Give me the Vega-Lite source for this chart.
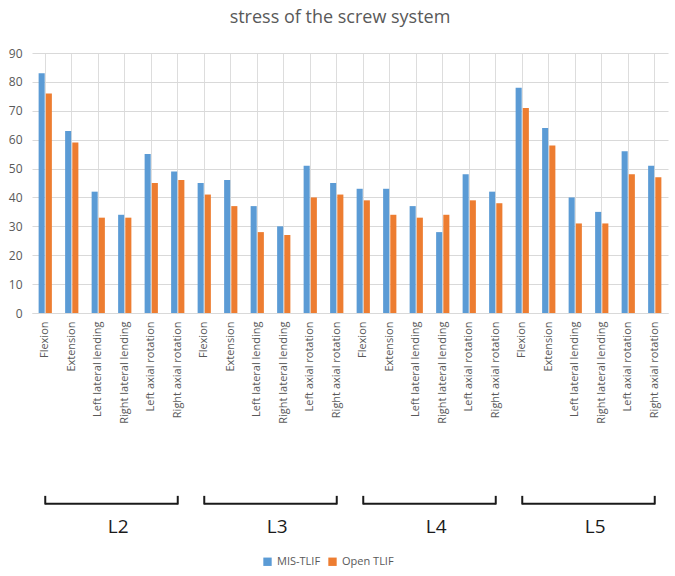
{
  "$schema": "https://vega.github.io/schema/vega-lite/v6.json",
  "autosize": "none",
  "width": 636,
  "height": 260,
  "padding": {"left": 32, "top": 53, "right": 7, "bottom": 263},
  "background": "white",
  "title": {
    "text": "stress of the screw system",
    "fontSize": 18,
    "font": "Open Sans",
    "fontWeight": "normal",
    "color": "#595959",
    "anchor": "middle",
    "dx": -10,
    "offset": 20
  },
  "datasets": {
    "stress": [
      {"cat": "L2 Flexion", "MIS-TLIF": 83, "Open TLIF": 76},
      {"cat": "L2 Extension", "MIS-TLIF": 63, "Open TLIF": 59},
      {"cat": "L2 Left lateral lending", "MIS-TLIF": 42, "Open TLIF": 33},
      {"cat": "L2 Right lateral lending", "MIS-TLIF": 34, "Open TLIF": 33},
      {"cat": "L2 Left axial rotation", "MIS-TLIF": 55, "Open TLIF": 45},
      {"cat": "L2 Right axial rotation", "MIS-TLIF": 49, "Open TLIF": 46},
      {"cat": "L3 Flexion", "MIS-TLIF": 45, "Open TLIF": 41},
      {"cat": "L3 Extension", "MIS-TLIF": 46, "Open TLIF": 37},
      {"cat": "L3 Left lateral lending", "MIS-TLIF": 37, "Open TLIF": 28},
      {"cat": "L3 Right lateral lending", "MIS-TLIF": 30, "Open TLIF": 27},
      {"cat": "L3 Left axial rotation", "MIS-TLIF": 51, "Open TLIF": 40},
      {"cat": "L3 Right axial rotation", "MIS-TLIF": 45, "Open TLIF": 41},
      {"cat": "L4 Flexion", "MIS-TLIF": 43, "Open TLIF": 39},
      {"cat": "L4 Extension", "MIS-TLIF": 43, "Open TLIF": 34},
      {"cat": "L4 Left lateral lending", "MIS-TLIF": 37, "Open TLIF": 33},
      {"cat": "L4 Right lateral lending", "MIS-TLIF": 28, "Open TLIF": 34},
      {"cat": "L4 Left axial rotation", "MIS-TLIF": 48, "Open TLIF": 39},
      {"cat": "L4 Right axial rotation", "MIS-TLIF": 42, "Open TLIF": 38},
      {"cat": "L5 Flexion", "MIS-TLIF": 78, "Open TLIF": 71},
      {"cat": "L5 Extension", "MIS-TLIF": 64, "Open TLIF": 58},
      {"cat": "L5 Left lateral lending", "MIS-TLIF": 40, "Open TLIF": 31},
      {"cat": "L5 Right lateral lending", "MIS-TLIF": 35, "Open TLIF": 31},
      {"cat": "L5 Left axial rotation", "MIS-TLIF": 56, "Open TLIF": 48},
      {"cat": "L5 Right axial rotation", "MIS-TLIF": 51, "Open TLIF": 47}
    ],
    "levels": [
      {"level": "L2", "from": "L2 Flexion", "to": "L2 Right axial rotation", "mid": "L2 Right lateral lending"},
      {"level": "L3", "from": "L3 Flexion", "to": "L3 Right axial rotation", "mid": "L3 Right lateral lending"},
      {"level": "L4", "from": "L4 Flexion", "to": "L4 Right axial rotation", "mid": "L4 Right lateral lending"},
      {"level": "L5", "from": "L5 Flexion", "to": "L5 Right axial rotation", "mid": "L5 Right lateral lending"}
    ]
  },
  "layer": [
    {
      "data": {"name": "stress"},
      "transform": [{"fold": ["MIS-TLIF", "Open TLIF"], "as": ["series", "value"]}],
      "mark": {"type": "bar"},
      "encoding": {
        "x": {
          "field": "cat",
          "type": "nominal",
          "sort": null,
          "title": null,
          "scale": {"paddingInner": 0.5, "paddingOuter": 0.25},
          "axis": {
            "labelExpr": "slice(datum.label, 3)",
            "labelAngle": -90,
            "labelFont": "Open Sans",
            "labelFontSize": 11,
            "labelColor": "#595959",
            "labelPadding": 8,
            "ticks": false,
            "domainColor": "#d9d9d9"
          }
        },
        "xOffset": {"field": "series", "type": "nominal", "scale": {"paddingInner": 0.15}},
        "y": {
          "field": "value",
          "type": "quantitative",
          "title": null,
          "scale": {"domain": [0, 90], "nice": false}
        },
        "color": {
          "field": "series",
          "type": "nominal",
          "scale": {"domain": ["MIS-TLIF", "Open TLIF"], "range": ["#5b9bd5", "#ed7d31"]},
          "legend": {
            "title": null,
            "orient": "none",
            "legendX": 230,
            "legendY": 503,
            "padding": 0,
            "direction": "horizontal",
            "symbolType": "square",
            "symbolSize": 70,
            "symbolStrokeWidth": 0,
            "labelFont": "Open Sans",
            "labelFontSize": 11,
            "labelColor": "#595959",
            "columnPadding": 6
          }
        }
      }
    },
    {
      "data": {"name": "levels"},
      "mark": {"type": "rule", "color": "#1a1a1a", "strokeWidth": 2},
      "encoding": {
        "x": {"field": "from", "type": "nominal", "sort": null},
        "x2": {"field": "to"},
        "y": {"datum": -66}
      }
    },
    {
      "data": {"name": "levels"},
      "transform": [{"fold": ["from", "to"], "as": ["end", "cat"]}],
      "mark": {"type": "rule", "color": "#1a1a1a", "strokeWidth": 2},
      "encoding": {
        "x": {"field": "cat", "type": "nominal", "sort": null},
        "y": {"datum": -66.3},
        "y2": {"datum": -63.3}
      }
    },
    {
      "data": {"name": "levels"},
      "mark": {"type": "text", "font": "Open Sans", "fontSize": 19, "color": "#1a1a1a", "baseline": "alphabetic"},
      "encoding": {
        "x": {"field": "mid", "type": "nominal", "sort": null, "bandPosition": 0},
        "y": {"datum": -76},
        "text": {"field": "level"}
      }
    }
  ],
  "config": {
    "view": {"stroke": null},
    "axis": {"grid": true},
    "axisY": {
      "values": [0, 10, 20, 30, 40, 50, 60, 70, 80, 90],
      "labelOverlap": false,
      "domain": false,
      "ticks": false,
      "labelFont": "Open Sans",
      "labelFontSize": 12,
      "labelColor": "#595959",
      "labelPadding": 10,
      "gridColor": "#d9d9d9",
      "title": null
    }
  }
}
